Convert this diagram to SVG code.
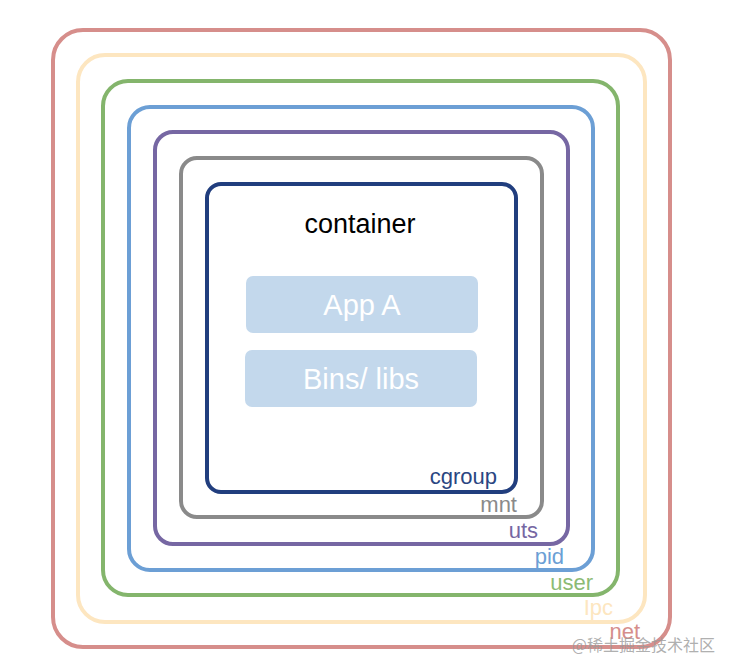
<svg xmlns="http://www.w3.org/2000/svg" width="733" height="671" viewBox="0 0 733 671">
<style>
.ns{fill:none;stroke-width:4}
.lbl{font-family:"Liberation Sans",Arial,sans-serif;font-size:22px;text-anchor:end}
.box{fill:#c3d8ec}
.bt{font-family:"Liberation Sans",Arial,sans-serif;font-size:29px;fill:#ffffff;text-anchor:middle}
</style>
<rect width="733" height="671" fill="#ffffff"/>
<g id="net"><rect class="ns" x="53" y="30" width="617" height="617" rx="30" stroke="#d68e8b"/><text class="lbl" x="640" y="639" fill="#d68e8b">net</text></g>
<g id="ipc"><rect class="ns" x="78" y="55" width="567" height="567" rx="27" stroke="#fde6c0"/><text class="lbl" x="613" y="615" fill="#fde6c0">Ipc</text></g>
<g id="user"><rect class="ns" x="103" y="81" width="515" height="514" rx="25" stroke="#84b56c"/><text class="lbl" x="593" y="590" fill="#8cbb74">user</text></g>
<g id="pid"><rect class="ns" x="129" y="107" width="464" height="463" rx="21" stroke="#6c9fd5"/><text class="lbl" x="564" y="564" fill="#6c9fd5">pid</text></g>
<g id="uts"><rect class="ns" x="155" y="132" width="413" height="412" rx="18" stroke="#7667a3"/><text class="lbl" x="538" y="538" fill="#7667a3">uts</text></g>
<g id="mnt"><rect class="ns" x="181" y="158" width="361" height="359" rx="16" stroke="#8a8a8a"/><text class="lbl" x="517" y="512" fill="#8a8a8a">mnt</text></g>
<g id="cgroup"><rect class="ns" x="207" y="184" width="309" height="308" rx="14" stroke="#213e7e"/><text class="lbl" x="497" y="484" fill="#2a4682">cgroup</text></g>
<g id="container"><text x="360" y="233" font-family="Liberation Sans, Arial, sans-serif" font-size="27" fill="#000000" text-anchor="middle">container</text></g>
<g id="appA"><rect class="box" x="246" y="276" width="232" height="57" rx="7"/><text class="bt" x="362" y="315">App A</text></g>
<g id="bins"><rect class="box" x="245" y="350" width="232" height="57" rx="7"/><text class="bt" x="361" y="389">Bins/ libs</text></g>
<g id="connectors"></g>
<text x="715" y="651" font-family="'Noto Sans CJK SC', sans-serif" font-size="16" fill="#9a9a9a" fill-opacity="0.8" text-anchor="end">@稀土掘金技术社区</text>
</svg>
